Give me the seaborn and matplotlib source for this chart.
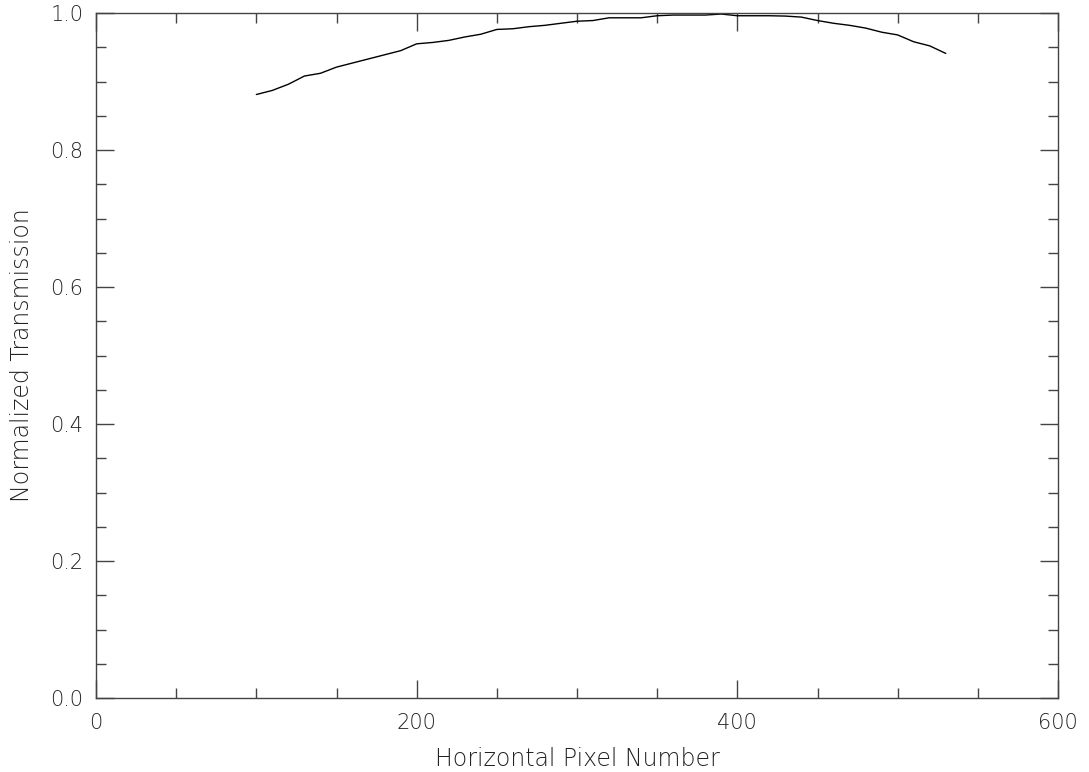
import matplotlib
matplotlib.use("Agg")
import matplotlib.pyplot as plt
from matplotlib.ticker import MultipleLocator
import seaborn as sns
import pandas as pd

pixel = [100, 110, 120, 130, 140, 150, 160, 170, 180, 190,
         200, 210, 220, 230, 240, 250, 260, 270, 280, 290,
         300, 310, 320, 330, 340, 350, 360, 370, 380, 390,
         400, 410, 420, 430, 440, 450, 460, 470, 480, 490,
         500, 510, 520, 530]
transmission = [0.881, 0.887, 0.896, 0.908, 0.912, 0.921, 0.927, 0.933, 0.939, 0.945,
                0.955, 0.957, 0.960, 0.965, 0.969, 0.976, 0.977, 0.980, 0.982, 0.985,
                0.988, 0.989, 0.993, 0.993, 0.993, 0.996, 0.997, 0.997, 0.997, 0.9985,
                0.996, 0.996, 0.996, 0.9955, 0.994, 0.989, 0.985, 0.982, 0.978, 0.972,
                0.968, 0.958, 0.952, 0.941]

df = pd.DataFrame({"Horizontal Pixel Number": pixel, "Normalized Transmission": transmission})

sns.set_theme(style="white")
plt.rcParams["font.family"] = ["DejaVu Sans"]

fig = plt.figure(figsize=(10.89, 7.72), dpi=100)
ax = fig.add_axes([96/1089, 74/772, 962/1089, 685/772])
sns.lineplot(data=df, x="Horizontal Pixel Number", y="Normalized Transmission",
             ax=ax, color="black", linewidth=1.0)

ax.set_xlim(0, 600)
ax.set_ylim(0.0, 1.0)
ax.xaxis.set_major_locator(MultipleLocator(200))
ax.xaxis.set_minor_locator(MultipleLocator(50))
ax.yaxis.set_major_locator(MultipleLocator(0.2))
ax.yaxis.set_minor_locator(MultipleLocator(0.05))
ax.yaxis.set_major_formatter(matplotlib.ticker.FormatStrFormatter("%.1f"))

tc = "#222222"
for s in ax.spines.values():
    s.set_color("#444444")
    s.set_linewidth(1.0)
ax.tick_params(which="both", direction="in", top=True, right=True, bottom=True, left=True,
               color="#444444", width=1.0, labelsize=15, labelcolor=tc)
ax.tick_params(which="major", length=13, pad=9)
ax.tick_params(axis="x", which="major", pad=11)
ax.tick_params(which="minor", length=7)
ax.set_xlabel("Horizontal Pixel Number", fontsize=17, color=tc, labelpad=10, fontweight="light")
ax.set_ylabel("Normalized Transmission", fontsize=17, color=tc, labelpad=12, fontweight="light")
for lbl in ax.get_xticklabels() + ax.get_yticklabels():
    lbl.set_fontweight("light")

fig.savefig("out.png", dpi=100)
